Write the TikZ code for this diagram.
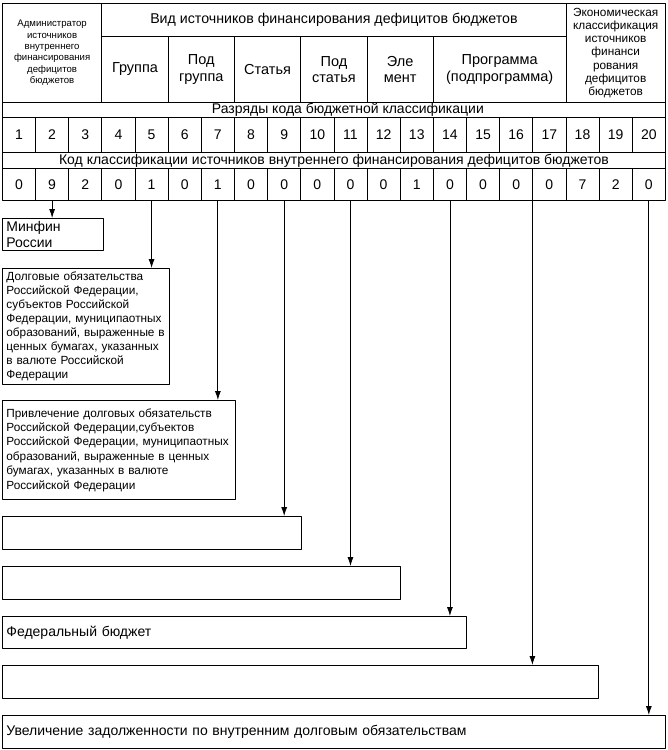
\documentclass[tikz,border=0pt]{standalone}
\usepackage{fontspec}
\setmainfont{Liberation Sans}
\usetikzlibrary{arrows.meta}
\tikzstyle{every path}=[line width=0.8pt,line cap=round,line join=round]
\tikzstyle{cell}=[draw, anchor=north west, inner sep=0pt, align=center, font=\fontsize{14}{16}\selectfont]
\tikzstyle{head}=[cell, minimum height=66pt, font=\fontsize{14.5}{16.5}\selectfont]
\tikzstyle{box}=[draw, anchor=north west, inner xsep=4pt, inner ysep=0pt, align=left]
\tikzstyle{link}=[-{Latex[length=9pt,width=6pt]}]

\begin{document}
\begin{tikzpicture}[x=1pt,y=-1pt]
% Budget classification code of deficit financing sources
	\useasboundingbox (0,0) rectangle (667,750);
	\newcommand\cw{33.15} %width of one digit column
	\newcommand\gw{663} %width of the whole grid
	%Header
	\node[cell, minimum width=3*\cw pt, minimum height=99pt, font=\fontsize{9.6}{11.3}\selectfont] (adm) at (2,3) {Администратор\\источников\\внутреннего\\финансирования\\дефицитов\\бюджетов}; % adm = administrator, digits 1-3
	\node[cell, minimum width=14*\cw pt, minimum height=33pt, font=\fontsize{14.2}{16}\selectfont] (vid) at ({2+3*\cw},3) {Вид источников финансирования дефицитов бюджетов}; % vid = kind of sources, digits 4-17
	\node[cell, minimum width=3*\cw pt, minimum height=99pt, font=\fontsize{11.8}{13.2}\selectfont] (econ) at ({2+17*\cw},3) {Экономическая\\классификация\\источников\\финанси\\рования\\дефицитов\\бюджетов}; % econ = economic classification, digits 18-20
	%Sub header
	\node[head, minimum width=2*\cw pt] (grp) at ({2+3*\cw},36) {Группа};
	\node[head, minimum width=2*\cw pt] (pgrp) at ({2+5*\cw},36) {Под\\группа};
	\node[head, minimum width=2*\cw pt] (stat) at ({2+7*\cw},36) {Статья};
	\node[head, minimum width=2*\cw pt] (pstat) at ({2+9*\cw},36) {Под\\статья};
	\node[head, minimum width=2*\cw pt] (elem) at ({2+11*\cw},36) {Эле\\мент};
	\node[head, minimum width=4*\cw pt] (prog) at ({2+13*\cw},36) {Программа\\(подпрограмма)};
	%Digit rows
	\node[cell, minimum width=\gw pt, minimum height=15pt] (razr) at (2,102) {\hspace{28pt}Разряды кода бюджетной классификации};
	\foreach \i in {1,...,20}
		\node[cell, minimum width=\cw pt, minimum height=35pt] (d\i) at ({2+(\i-1)*\cw},117) {\i}; % d = digit number
	\node[cell, minimum width=\gw pt, minimum height=16pt] (kod) at (2,152) {Код классификации источников внутреннего финансирования дефицитов бюджетов};
	\foreach \v [count=\i] in {0,9,2,0,1,0,1,0,0,0,0,0,1,0,0,0,0,7,2,0}
		\node[cell, minimum width=\cw pt, minimum height=32pt] (v\i) at ({2+(\i-1)*\cw},168) {\v}; % v = value of the digit
	%Meaning boxes
	\node[box, text width=93pt, minimum height=32pt, font=\fontsize{14}{16}\selectfont] (b1) at (2,218) {Минфин\\России};
	\node[box, text width=159pt, minimum height=116pt, font=\fontsize{11.8}{14}\selectfont] (b2) at (2,268) {Долговые обязательства\\Российской Федерации,\\субъектов Российской\\Федерации, муниципаотных\\образований, выраженные в\\ценных бумагах, указанных\\в валюте Российской\\Федерации};
	\node[box, text width=225pt, minimum height=99pt, font=\fontsize{11.8}{14.4}\selectfont] (b3) at (2,400) {Привлечение долговых обязательств\\Российской Федерации,субъектов\\Российской Федерации, муниципаотных\\образований, выраженные в ценных\\бумагах, указанных в валюте\\Российской Федерации};
	\node[box, text width=291pt, minimum height=33pt] (b4) at (2,516) {};
	\node[box, text width=390pt, minimum height=33pt] (b5) at (2,566) {};
	\node[box, text width=456pt, minimum height=32pt, font=\fontsize{14}{16}\selectfont] (b6) at (2,616) {Федеральный бюджет};
	\node[box, text width=588pt, minimum height=33pt] (b7) at (2,665) {};
	\node[box, text width=655pt, minimum height=33pt, font=\fontsize{14}{16}\selectfont] (b8) at (2,715) {Увеличение задолженности по внутренним долговым обязательствам};
	%Arrows
	\draw[link] (v2.south) -- (v2.south |- b1.north);
	\draw[link] (v5.south) -- (v5.south |- b2.north);
	\draw[link] (v7.south) -- (v7.south |- b3.north);
	\draw[link] (v9.south) -- (v9.south |- b4.north);
	\draw[link] (v11.south) -- (v11.south |- b5.north);
	\draw[link] (v14.south) -- (v14.south |- b6.north);
	\draw[link] (v17.south west) -- (v17.south west |- b7.north);
	\draw[link] (v20.south) -- (v20.south |- b8.north);
\end{tikzpicture}
\end{document}
